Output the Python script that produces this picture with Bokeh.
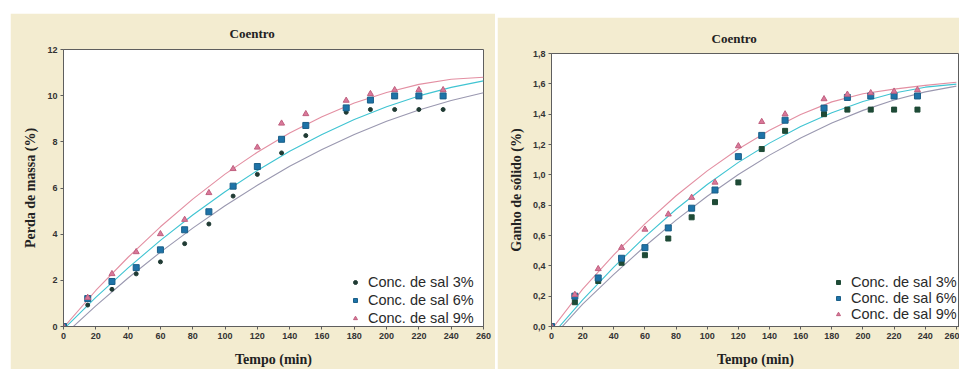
from bokeh.plotting import figure
from bokeh.models import Range1d, FixedTicker, Legend, LegendItem, Title
from bokeh.layouts import row
from bokeh.embed import file_html
from bokeh.resources import INLINE

# ---------------- data ----------------
tempo = [0, 15, 30, 45, 60, 75, 90, 105, 120, 135, 150, 175, 190, 205, 220, 235]

perda_3 = [0, 0.93, 1.61, 2.28, 2.80, 3.59, 4.44, 5.65, 6.59, 7.52, 8.27, 9.28, 9.40, 9.40, 9.40, 9.40]
perda_6 = [0, 1.21, 1.95, 2.55, 3.32, 4.19, 4.97, 6.08, 6.93, 8.11, 8.71, 9.47, 9.81, 9.99, 9.99, 9.99]
perda_9 = [0, 1.25, 2.28, 3.23, 4.01, 4.63, 5.79, 6.83, 7.76, 8.80, 9.21, 9.79, 10.08, 10.25, 10.25, 10.25]

ganho_3 = [0, 0.16, 0.30, 0.42, 0.47, 0.58, 0.72, 0.82, 0.95, 1.17, 1.29, 1.40, 1.43, 1.43, 1.43, 1.43]
ganho_6 = [0, 0.20, 0.32, 0.45, 0.52, 0.65, 0.78, 0.90, 1.12, 1.26, 1.36, 1.44, 1.51, 1.52, 1.52, 1.52]
ganho_9 = [0, 0.21, 0.38, 0.52, 0.64, 0.74, 0.85, 0.95, 1.19, 1.35, 1.40, 1.50, 1.53, 1.54, 1.55, 1.56]

# fitted curves
curve_t = [0, 20, 40, 60, 80, 100, 120, 140, 160, 180, 200, 220, 240, 260]
perda_fit_3 = [-0.39, 0.89, 2.10, 3.22, 4.26, 5.23, 6.12, 6.94, 7.67, 8.32, 8.89, 9.38, 9.79, 10.13]
perda_fit_6 = [-0.12, 1.26, 2.54, 3.73, 4.83, 5.84, 6.76, 7.59, 8.32, 8.97, 9.52, 9.99, 10.36, 10.64]
perda_fit_9 = [-0.05, 1.56, 3.00, 4.32, 5.52, 6.60, 7.55, 8.38, 9.09, 9.68, 10.14, 10.49, 10.71, 10.80]

ganho_fit_3 = [-0.078, 0.147, 0.344, 0.529, 0.701, 0.859, 1.002, 1.130, 1.243, 1.341, 1.425, 1.493, 1.547, 1.585]
ganho_fit_6 = [-0.06, 0.175, 0.392, 0.591, 0.773, 0.936, 1.082, 1.209, 1.319, 1.410, 1.484, 1.540, 1.578, 1.598]
ganho_fit_9 = [-0.02, 0.246, 0.472, 0.677, 0.862, 1.026, 1.170, 1.294, 1.398, 1.481, 1.535, 1.565, 1.590, 1.610]

series_labels = ["Conc. de sal 3%", "Conc. de sal 6%", "Conc. de sal 9%"]
title_text = "Coentro"
x_label = "Tempo (min)"
y_label_left = "Perda de massa (%)"
y_label_right = "Ganho de sólido (%)"

x_ticks = [0, 20, 40, 60, 80, 100, 120, 140, 160, 180, 200, 220, 240, 260]
y_ticks_left = [0, 2, 4, 6, 8, 10, 12]
y_ticks_right = [0.0, 0.2, 0.4, 0.6, 0.8, 1.0, 1.2, 1.4, 1.6, 1.8]
y_tick_labels_right = ["0,0", "0,2", "0,4", "0,6", "0,8", "1,0", "1,2", "1,4", "1,6", "1,8"]

# ---------------- style ----------------
BEIGE = "#F3ECD0"
FRAME = "#5E5E5E"
C_LINE3 = "#9A98B0"
C_LINE6 = "#3FC4D2"
C_LINE9 = "#E38FA2"
SERIF = "Liberation Serif"
SANS = "Liberation Sans"


def style_axis(ax, ticks, label_standoff):
    ax.ticker = FixedTicker(ticks=ticks)
    ax.axis_line_color = FRAME
    ax.major_tick_line_color = FRAME
    ax.minor_tick_line_color = None
    ax.major_tick_in = 0
    ax.major_tick_out = 3
    ax.major_label_text_font = SANS
    ax.major_label_text_font_style = "bold"
    ax.major_label_text_font_size = "9px"
    ax.major_label_text_color = "#333333"
    ax.major_label_standoff = 3
    ax.axis_label_text_font = SERIF
    ax.axis_label_text_font_style = "bold"
    ax.axis_label_text_font_size = "14px"
    ax.axis_label_text_color = "#222222"
    ax.axis_label_standoff = label_standoff


def make_panel(width, height, margin, xr_end, yr_end, borders, ylab, yt, ytl, title_offset, title_standoff,
               data, fits, square3, legend_loc, legend_spacing):
    p = figure(width=width, height=height, output_backend="svg", toolbar_location=None,
               x_range=Range1d(0, xr_end), y_range=Range1d(0, yr_end),
               min_border_left=borders[0], min_border_right=borders[1],
               min_border_top=borders[2], min_border_bottom=borders[3],
               background_fill_color="white", border_fill_color=BEIGE,
               outline_line_color=FRAME, outline_line_width=1, margin=margin)
    p.grid.visible = False
    style_axis(p.xaxis[0], x_ticks, 10)
    p.xaxis[0].axis_label = x_label
    style_axis(p.yaxis[0], yt, 6)
    p.yaxis[0].axis_label = ylab
    if ytl is not None:
        p.yaxis[0].major_label_overrides = {t: s for t, s in zip(yt, ytl)}
    p.title = Title(text=title_text, align="left", offset=title_offset, standoff=title_standoff,
                    text_font=SERIF, text_font_style="bold", text_font_size="13px",
                    text_color="#222222")

    for ys, c in zip(fits, [C_LINE3, C_LINE6, C_LINE9]):
        p.line(curve_t, ys, line_color=c, line_width=1.1)

    d3, d6, d9 = data
    if square3:
        r3 = p.scatter(tempo, d3, marker="square", size=5, fill_color="#1E4A36", line_color="#1E4A36")
    else:
        r3 = p.scatter(tempo, d3, marker="circle", size=4, fill_color="#1F3A33", line_color="#1F3A33")
    r6 = p.scatter(tempo, d6, marker="square", size=6, fill_color="#1E73A8", line_color="#1A5F88")
    r9 = p.scatter(tempo, d9, marker="triangle", size=6, fill_color="#D9789A", line_color="#C0607F")

    legend = Legend(items=[LegendItem(label=series_labels[0], renderers=[r3]),
                           LegendItem(label=series_labels[1], renderers=[r6]),
                           LegendItem(label=series_labels[2], renderers=[r9])],
                    location=legend_loc, border_line_alpha=0, background_fill_alpha=0,
                    label_text_font=SANS, label_text_font_size="14.5px", label_text_color="#2A2A2A",
                    label_height=15, glyph_height=10, glyph_width=10, spacing=legend_spacing,
                    padding=0, margin=0, label_standoff=8)
    p.add_layout(legend)
    return p


p1 = make_panel(485, 356, (13, 0, 0, 10), 260, 12, (53, 12, 34, 41), y_label_left, y_ticks_left, None,
                166, 18,
                (perda_3, perda_6, perda_9), (perda_fit_3, perda_fit_6, perda_fit_9), False, (287, 0), 2)
p2 = make_panel(462, 352, (17, 0, 0, 2), 262, 1.8, (54, 0, 36, 37), y_label_right, y_ticks_right,
                y_tick_labels_right, 160, 16,
                (ganho_3, ganho_6, ganho_9), (ganho_fit_3, ganho_fit_6, ganho_fit_9), True, (282, 4), 0)

layout = row(p1, p2)

open("out.html", "w").write(file_html(layout, INLINE))
